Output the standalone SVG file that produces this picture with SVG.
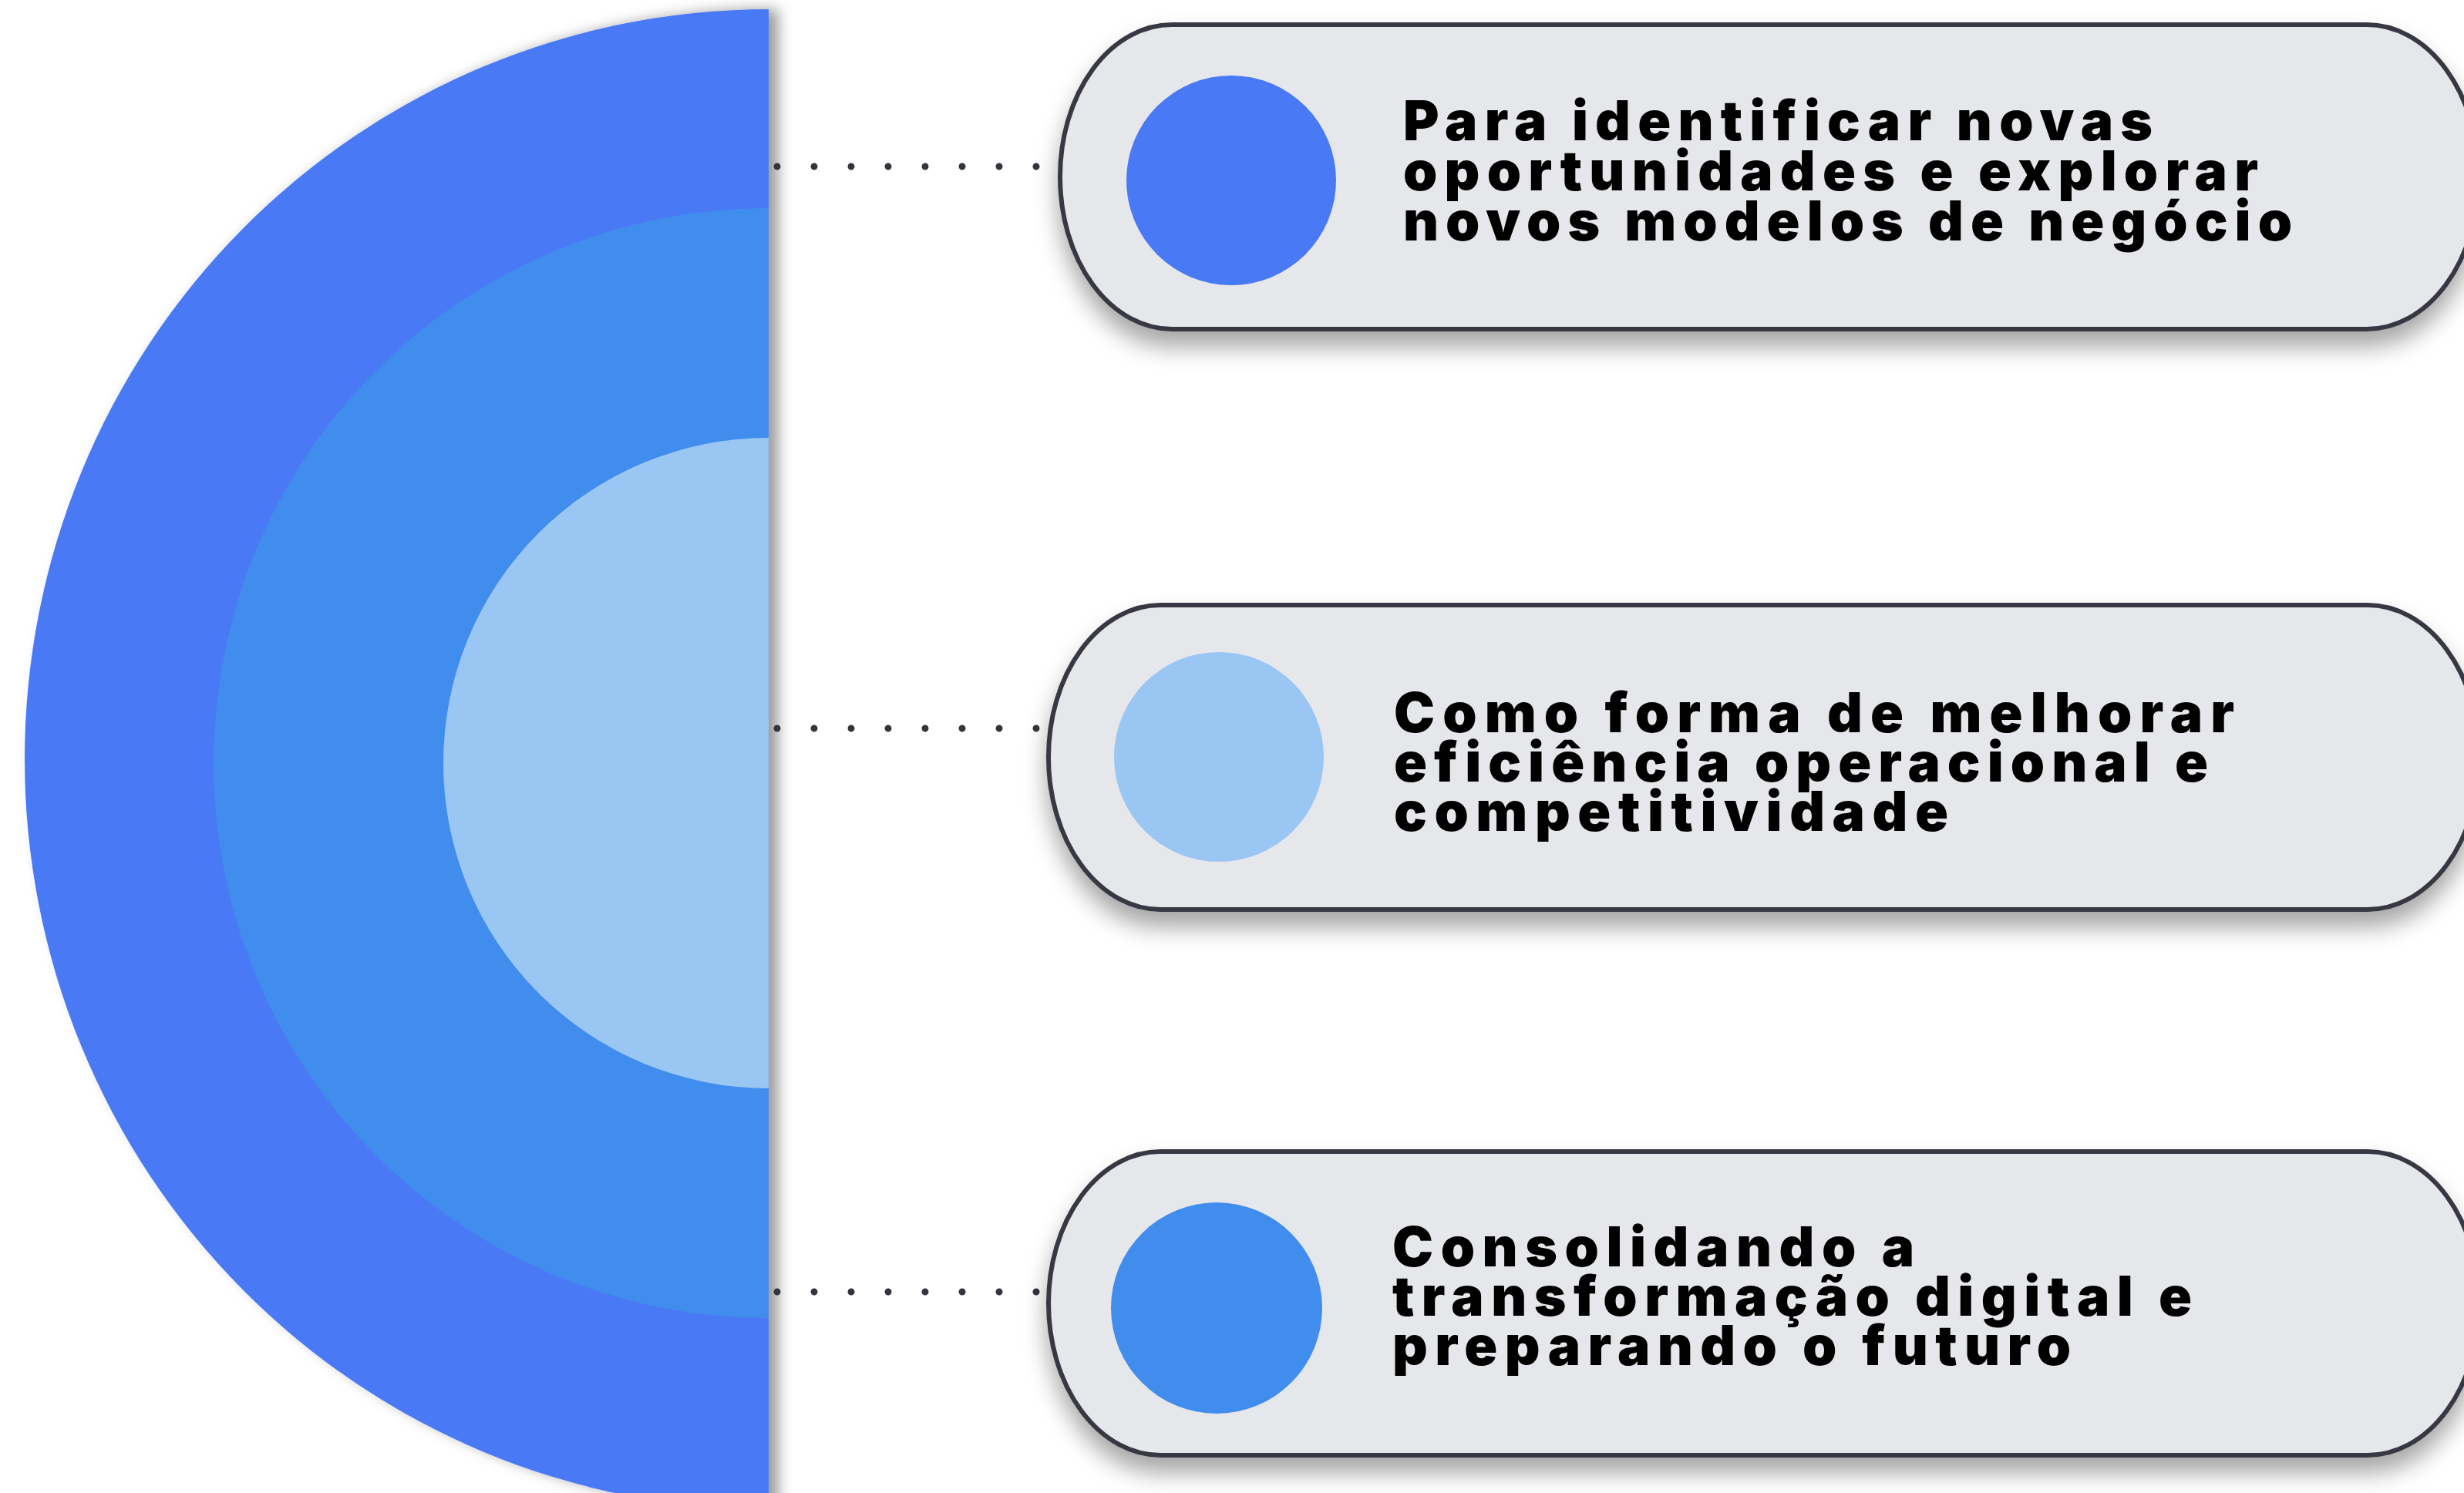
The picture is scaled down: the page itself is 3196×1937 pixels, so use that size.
<svg xmlns="http://www.w3.org/2000/svg" width="3196" height="1937" viewBox="0 0 3196 1937">
<style>
.card{fill:#E6E7EA;stroke:#383943;stroke-width:6;filter:url(#cardShadow)}
.lbl{font-family:Inter,"Open Sans","Liberation Sans",sans-serif;font-weight:900;font-size:71px;fill:#000}
.dots{stroke:#33343C;stroke-width:9;stroke-linecap:round;stroke-dasharray:0 48;fill:none}
</style>
<defs>
<filter id="cardShadow" x="-5%" y="-20%" width="115%" height="150%">
<feDropShadow dx="0" dy="20" stdDeviation="15" flood-color="#000" flood-opacity="0.35"/>
</filter>
<filter id="halfShadow" x="-5%" y="-5%" width="115%" height="110%">
<feDropShadow dx="12" dy="0" stdDeviation="9" flood-color="#000" flood-opacity="0.4"/>
</filter>
</defs>
<rect width="3196" height="1937" fill="#FFFFFF"/>
<g id="half-circle" filter="url(#halfShadow)">
<path d="M997,12 A965,973 0 0 0 997,1958 Z" fill="#4A79F5"/>
<path d="M997,270 A720,720 0 0 0 997,1710 Z" fill="#418DEE"/>
<path d="M997,568 A422,422 0 0 0 997,1412 Z" fill="#9AC6F4"/>
</g>
<g id="connectors">
<line class="dots" x1="1008" y1="216" x2="1346" y2="216"/>
<line class="dots" x1="1008" y1="945" x2="1346" y2="945"/>
<line class="dots" x1="1008" y1="1676" x2="1346" y2="1676"/>
</g>
<g id="card1">
<rect class="card" x="1375" y="32" width="1840" height="395" rx="145" ry="197"/>
<circle cx="1597" cy="234" r="136" fill="#4A79F5"/>
<text class="lbl"><tspan x="1820" y="182" textLength="972" lengthAdjust="spacing">Para identificar novas</tspan><tspan x="1820" y="247" textLength="1109" lengthAdjust="spacing">oportunidades e explorar</tspan><tspan x="1820" y="312" textLength="1153" lengthAdjust="spacing">novos modelos de negócio</tspan></text>
</g>
<g id="card2">
<rect class="card" x="1360" y="785" width="1856" height="395" rx="145" ry="197"/>
<circle cx="1581" cy="982" r="136" fill="#9AC6F4"/>
<text class="lbl"><tspan x="1808" y="950" textLength="1090" lengthAdjust="spacing">Como forma de melhorar</tspan><tspan x="1808" y="1014" textLength="1056" lengthAdjust="spacing">eficiência operacional e</tspan><tspan x="1808" y="1078" textLength="719" lengthAdjust="spacing">competitividade</tspan></text>
</g>
<g id="card3">
<rect class="card" x="1360" y="1494" width="1856" height="394" rx="145" ry="197"/>
<circle cx="1578" cy="1697" r="137" fill="#418DEE"/>
<text class="lbl"><tspan x="1806" y="1643" textLength="677" lengthAdjust="spacing">Consolidando a</tspan><tspan x="1806" y="1707" textLength="1037" lengthAdjust="spacing">transformação digital e</tspan><tspan x="1806" y="1771" textLength="880" lengthAdjust="spacing">preparando o futuro</tspan></text>
</g>
</svg>
